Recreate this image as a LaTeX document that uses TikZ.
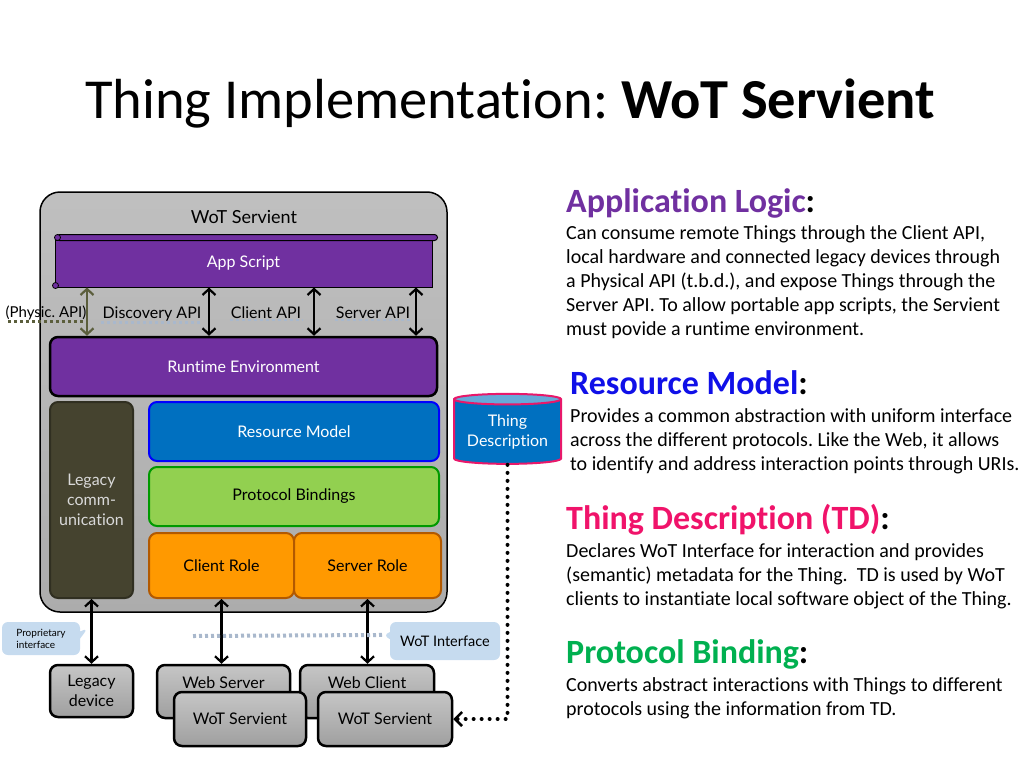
\documentclass[tikz,border=0pt]{standalone}
\usepackage{fontspec}
\setmainfont{Carlito}[Ligatures={NoCommon,NoRequired,NoContextual},RawFeature={-liga;-clig;-dlig;-calt}]
\newfontfamily\gill{Lato}[Ligatures={NoCommon,NoRequired,NoContextual},RawFeature={-liga;-clig;-dlig;-calt}]
\usetikzlibrary{arrows.meta,shapes.geometric,shapes.callouts,positioning}
\frenchspacing

\definecolor{wotpurple}{HTML}{7030A0}
\definecolor{wotblue}{HTML}{0070C0}
\definecolor{wotgreen}{HTML}{92D050}
\definecolor{wotorange}{HTML}{FF9900}
\definecolor{wotolive}{HTML}{45432F}
\definecolor{wotapi}{HTML}{5B5E3C}
\definecolor{wotpink}{HTML}{E8186A}
\definecolor{wotcall}{HTML}{C6DBEF}
\definecolor{wotline}{HTML}{A9B8CC}
\definecolor{headblue}{HTML}{1010E8}
\definecolor{headpink}{HTML}{F0136A}
\definecolor{headgreen}{HTML}{00B050}

\tikzset{
  lbl/.style={font=\gill\fontsize{16}{20}\selectfont},
  block/.style={lbl, draw, rounded corners=8pt, line width=2pt, align=center, inner sep=0pt},
  device/.style={block, line width=2.5pt, top color=gray!45, bottom color=gray!75,
    minimum width=133, minimum height=53},
  dbl/.style={{Straight Barb[length=6pt,width=13pt]}-{Straight Barb[length=6pt,width=13pt]}, line width=2.2pt},
  apiline/.style={dashed, line width=2.5pt, wotline},
  bubble/.style={rectangle callout, fill=wotcall, rounded corners=6pt, align=left, inner sep=0pt},
  head/.style={anchor=base west, inner sep=0pt, font=\bfseries\fontsize{34}{38}\selectfont},
  body/.style={anchor=north west, inner sep=0pt, align=left, font=\fontsize{20}{24}\selectfont},
}

\begin{document}
\begin{tikzpicture}[x=1pt,y=-1pt]
\useasboundingbox (0,0) rectangle (1024,768);

% title
\node[anchor=base west, inner sep=0pt, font=\fontsize{56.5}{60}\selectfont] (title) at (85,118)
  {Thing Implementation: \textbf{WoT Servient}};

% servient box
\node[draw, rounded corners=20pt, line width=1.5pt, top color=gray!50, bottom color=gray!65,
  minimum width=407, minimum height=420] (srv) at (243.5,402) {};
\node[lbl, font=\gill\fontsize{18}{20}\selectfont] (srvlbl) at (244,217) {WoT Servient};

% app script scroll
\node[block, fill=wotpurple, text=white, rounded corners=0pt, line width=1pt,
  minimum width=377, minimum height=47] (as) at (243.5,263.5) {App Script};
\draw[fill=wotpurple, rounded corners=3pt, line width=1pt]
  ([xshift=2pt,yshift=5pt]as.north west) rectangle ([xshift=5pt,yshift=-1pt]as.north east);
\draw[fill=wotpurple, line width=0.8pt] ([xshift=3pt,yshift=2pt]as.north west) circle (3);
\draw[fill=wotpurple, line width=0.8pt] ([xshift=1pt,yshift=2pt]as.south west) circle (3);

\node[block, fill=wotpurple, text=white, line width=2.5pt,
  minimum width=387, minimum height=59] (re) at (243.5,366.5) {Runtime Environment};

% APIs
\node[lbl, inner sep=1pt, font=\gill\fontsize{15}{20}\selectfont] (phy) at (46,313) {(Physic. API)};
\node[lbl, inner sep=1pt] (dapi) at (152,314) {Discovery API};
\node[lbl, inner sep=1pt] (capi) at (266,313) {Client API};
\node[lbl, inner sep=1pt] (sapi) at (373,313) {Server API};
\draw[apiline, wotapi, shorten <=4pt, shorten >=4pt] (phy.south west) -- (phy.south east);
\foreach \n in {dapi,capi,sapi}
  \draw[apiline] (\n.south west) -- (\n.south east);
\foreach \x/\c in {87/wotapi,209/black,314/black,416/black}
  \draw[dbl, \c] (as.south -| \x,0) -- (re.north -| \x,0);

% inner layers
\node[block, fill=wotolive, draw=wotolive!70!black, text=gray!30,
  minimum width=83, minimum height=196] (lc) at (91.5,500) {Legacy\\comm-\\unication};
\node[block, fill=wotblue, draw=blue, text=white,
  minimum width=290, minimum height=59] (rm) at (294,431.5) {Resource Model};
\node[block, fill=wotgreen, draw=green!60!black,
  minimum width=290, minimum height=59] (pb) at (294,496.5) {Protocol Bindings};
\node[block, fill=wotorange, draw=orange!70!black,
  minimum width=145, minimum height=65] (cr) at (221.5,565.5) {Client Role};
\node[block, fill=wotorange, draw=orange!70!black,
  minimum width=147, minimum height=65] (sr) at (367.5,565.5) {Server Role};

% thing description
\node[cylinder, shape border rotate=90, draw=wotpink, line width=2pt, aspect=0.13,
  cylinder uses custom fill, cylinder body fill=wotblue, cylinder end fill=wotblue!60,
  minimum width=107, minimum height=70, lbl, text=white, align=center, inner sep=0pt]
  (td) at (507.5,432) {Thing\\Description};

% devices
\node[device, minimum width=83, minimum height=52] (ld) at (91.5,691) {Legacy\\device};
\node[device, text depth=17pt] (ws) at (223.5,691.5) {Web Server};
\node[device, minimum width=134, text depth=17pt] (wc) at (367,691.5) {Web Client};
\node[device, minimum width=132, minimum height=54] (wos1) at (240,719) {WoT Servient};
\node[device, minimum width=134, minimum height=54] (wos2) at (385,719) {WoT Servient};

\draw[dbl] (lc.south) -- (ld.north);
\draw[dbl] (cr.south) -- (cr.south |- ws.north);
\draw[dbl] (sr.south) -- (sr.south |- wc.north);

% interfaces
\node[bubble, font=\gill\fontsize{10}{12}\selectfont, minimum width=78, minimum height=33,
  callout absolute pointer={(88,628)}] (prop) at (41,638.5) {Proprietary\\interface};
\node[bubble, font=\gill\fontsize{14.5}{16}\selectfont, minimum width=110, minimum height=38,
  callout absolute pointer={(383,635)}] (woti) at (445,641) {WoT Interface};
\coordinate (wil) at (193,636);
\draw[dashed, line width=4pt, wotline] (wil) -- (woti.pointer);

\draw[line width=4pt, line cap=round, dash pattern=on 0pt off 8pt,
  -{Straight Barb[length=7pt,width=14pt,line width=2.5pt]}] (td.south) |- (wos2.east);

% explanations
\node[head, wotpurple] (alh) at (566,212) {Application Logic\textcolor{black}{:}};
\node[body] (alb) at (566,225) {Can consume remote Things through the Client API,\\
  local hardware and connected legacy devices through\\
  a Physical API (t.b.d.), and expose Things through the\\
  Server API. To allow portable app scripts, the Servient\\
  must povide a runtime environment.};
\node[head, headblue] (rmh) at (570,394) {Resource Model\textcolor{black}{:}};
\node[body] (rmb) at (570,408) {Provides a common abstraction with uniform interface\\
  across the different protocols. Like the Web, it allows\\
  to identify and address interaction points through URIs.};
\node[head, headpink] (tdh) at (566,529) {Thing Description (TD)\textcolor{black}{:}};
\node[body] (tdb) at (566,543) {Declares WoT Interface for interaction and provides\\
  (semantic) metadata for the Thing.\ \ TD is used by WoT\\
  clients to instantiate local software object of the Thing.};
\node[head, headgreen] (pbh) at (566,663) {Protocol Binding\textcolor{black}{:}};
\node[body] (pbb) at (566,677) {Converts abstract interactions with Things to different\\
  protocols using the information from TD.};
\end{tikzpicture}
\end{document}
